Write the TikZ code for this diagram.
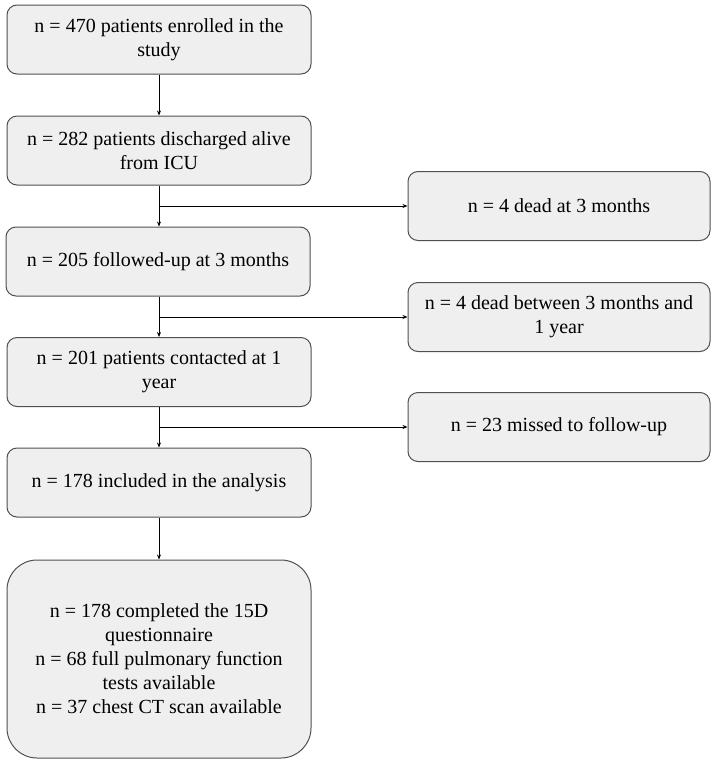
\documentclass[tikz,border=0pt]{standalone}
\usepackage{fontspec}
\setmainfont{Liberation Serif}
\usetikzlibrary{arrows.meta}
\definecolor{myboxfill}{RGB}{239,239,239}
\definecolor{myboxline}{RGB}{80,80,80}
\newcommand{\widthstage}{304pt}
\newcommand{\widthexcl}{302pt}
\newcommand{\heightbox}{69pt}
\tikzset{
    common/.style={draw=myboxline, fill=myboxfill, line width=1pt, rectangle, rounded corners=10pt,
        align=center, minimum height=\heightbox, font=\fontsize{20pt}{24pt}\selectfont},
    stage/.style={common, minimum width=\widthstage},
    excl/.style={common, minimum width=\widthexcl},
    flow/.style={-{Stealth[length=5pt, width=4pt]}, line width=0.8pt}
}
\begin{document}
\begin{tikzpicture}[x=1pt, y=-1pt]
    \useasboundingbox (0,0) rectangle (713,766);

    \node[stage] (enrolled) at (159,39.5) {n = 470 patients enrolled in the\\study};
    \node[stage] (discharged) at (159,150.5) {n = 282 patients discharged alive\\from ICU};
    \node[stage] (followed) at (158,261.5) {n = 205 followed-up at 3 months};
    \node[stage] (contacted) at (159,372) {n = 201 patients contacted at 1\\year};
    \node[stage] (included) at (159,482.5) {n = 178 included in the analysis};
    \node[stage, minimum height=198pt, rounded corners=30pt] (completed) at (159,659)
        {n = 178 completed the 15D\\questionnaire\\n = 68 full pulmonary function\\tests available\\n = 37 chest CT scan available};

    \node[excl] (dead3m) at (559,206) {n = 4 dead at 3 months};
    \node[excl] (dead1y) at (559,317) {n = 4 dead between 3 months and\\1 year};
    \node[excl] (missed) at (559,427) {n = 23 missed to follow-up};

    \draw[flow] (enrolled) -- (discharged);
    \draw[flow] (discharged) -- (followed.north -| discharged.south);
    \draw[flow] (followed.south -| contacted.north) -- (contacted);
    \draw[flow] (contacted) -- (included);
    \draw[flow] (included) -- (completed);

    \draw[flow] (discharged.south |- dead3m.west) -- (dead3m);
    \draw[flow] (contacted.north |- dead1y.west) -- (dead1y);
    \draw[flow] (contacted.south |- missed.west) -- (missed);
\end{tikzpicture}
\end{document}
